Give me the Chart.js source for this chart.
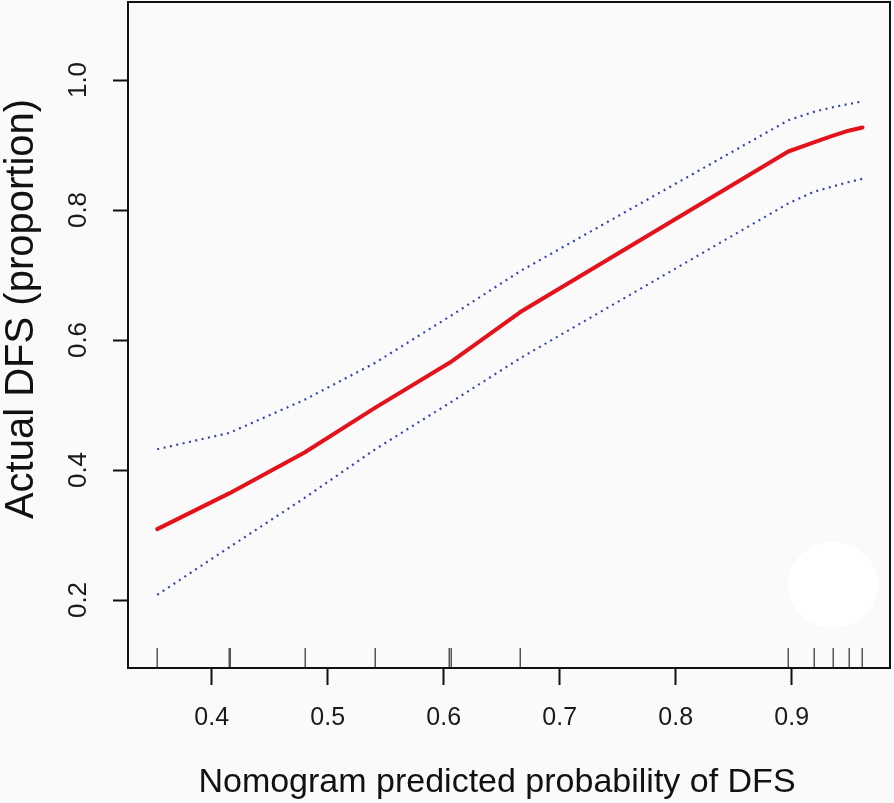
<!DOCTYPE html>
<html><head><meta charset="utf-8">
<script src="https://cdn.jsdelivr.net/npm/chart.js@4.4.1/dist/chart.umd.min.js"></script>
<style>html,body{margin:0;padding:0;background:#fafafa;overflow:hidden}#wrap{width:894px;height:803px}</style>
</head><body><div id="wrap"><canvas id="c" width="894" height="803"></canvas></div>
<script>
// Data
const predicted = [0.353, 0.415, 0.480, 0.541, 0.605, 0.666, 0.897, 0.919, 0.935, 0.949, 0.961];
const observed  = [0.309, 0.364, 0.427, 0.496, 0.565, 0.643, 0.890, 0.904, 0.914, 0.922, 0.927];
const upperCI   = [0.432, 0.457, 0.508, 0.565, 0.636, 0.706, 0.938, 0.951, 0.958, 0.963, 0.967];
const lowerCI   = [0.208, 0.281, 0.357, 0.432, 0.503, 0.572, 0.810, 0.828, 0.836, 0.843, 0.848];
const rugValues = [0.353, 0.4147, 0.416, 0.480, 0.541, 0.6046, 0.606, 0.666, 0.8966, 0.919, 0.9353, 0.9494, 0.9609];
const xTicks = [0.4, 0.5, 0.6, 0.7, 0.8, 0.9];
const yTicks = [0.2, 0.4, 0.6, 0.8, 1.0];
const xTitle = 'Nomogram predicted probability of DFS';
const yTitle = 'Actual DFS (proportion)';

const FONT = "'Liberation Sans', Arial, Helvetica, sans-serif";
const pts = ys => predicted.map((x, i) => ({x: x, y: ys[i]}));

const decor = {
  id: 'decor',
  beforeDatasetsDraw(chart) {
    const ctx = chart.ctx, a = chart.chartArea;
    ctx.save();
    ctx.fillStyle = '#ffffff';
    ctx.beginPath();
    ctx.ellipse(833, 585, 45, 43, 0, 0, Math.PI * 2);
    ctx.fill();
    // rug marks
    const xs = chart.scales.x;
    ctx.strokeStyle = '#555555';
    ctx.lineWidth = 1.5;
    rugValues.forEach(v => {
      const px = Math.round(xs.getPixelForValue(v)) + 0.25;
      ctx.beginPath();
      ctx.moveTo(px, a.bottom - 20);
      ctx.lineTo(px, a.bottom);
      ctx.stroke();
    });
    ctx.restore();
  },
  afterDraw(chart) {
    const ctx = chart.ctx, a = chart.chartArea;
    ctx.save();
    ctx.strokeStyle = '#111111';
    ctx.lineWidth = 2;
    ctx.strokeRect(a.left, a.top, a.right - a.left, a.bottom - a.top);
    ctx.fillStyle = '#111111';
    ctx.font = '34px ' + FONT;
    ctx.textAlign = 'center';
    ctx.textBaseline = 'alphabetic';
    ctx.fillText(xTitle, 497, 792);
    ctx.translate(33, 309);
    ctx.rotate(-Math.PI / 2);
    ctx.font = '40px ' + FONT;
    ctx.fillText(yTitle, 0, 0);
    ctx.restore();
  }
};

new Chart(document.getElementById('c'), {
  type: 'line',
  data: {
    datasets: [
      {label: 'upper', data: pts(upperCI), borderColor: '#3446a6', borderWidth: 2.2, borderDash: [2, 4.5], pointRadius: 0, fill: false, tension: 0},
      {label: 'lower', data: pts(lowerCI), borderColor: '#3446a6', borderWidth: 2.2, borderDash: [2, 4.5], pointRadius: 0, fill: false, tension: 0},
      {label: 'calibration', data: pts(observed), borderColor: '#e3121b', borderWidth: 4, pointRadius: 0, fill: false, tension: 0, borderCapStyle: 'round', borderJoinStyle: 'round'}
    ]
  },
  options: {
    responsive: false,
    animation: false,
    devicePixelRatio: 1,
    layout: {padding: {left: 0, top: 2, right: 4, bottom: 0}},
    plugins: {legend: {display: false}, tooltip: {enabled: false}},
    scales: {
      x: {
        type: 'linear', min: 0.3278, max: 0.9847,
        afterFit: s => { s.height = 135; s.paddingLeft = 0; s.paddingRight = 0; },
        afterBuildTicks: s => { s.ticks = xTicks.map(v => ({value: v})); },
        grid: {drawOnChartArea: false, drawTicks: true, tickLength: 17, tickWidth: 2, tickColor: '#111111'},
        border: {display: false},
        ticks: {color: '#1a1a1a', padding: 18, maxRotation: 0, minRotation: 0, autoSkip: false,
                font: {family: FONT, size: 25}, callback: v => v.toFixed(1)}
      },
      y: {
        type: 'linear', min: 0.0954, max: 1.12,
        afterFit: s => { s.width = 128; s.paddingTop = 0; s.paddingBottom = 0; },
        afterBuildTicks: s => { s.ticks = yTicks.map(v => ({value: v})); },
        grid: {drawOnChartArea: false, drawTicks: true, tickLength: 15, tickWidth: 2, tickColor: '#111111'},
        border: {display: false},
        ticks: {color: '#1a1a1a', padding: 16, minRotation: 90, maxRotation: 90, crossAlign: 'center', autoSkip: false,
                font: {family: FONT, size: 26}, callback: v => v.toFixed(1)}
      }
    }
  },
  plugins: [decor]
});
</script>
</body></html>
